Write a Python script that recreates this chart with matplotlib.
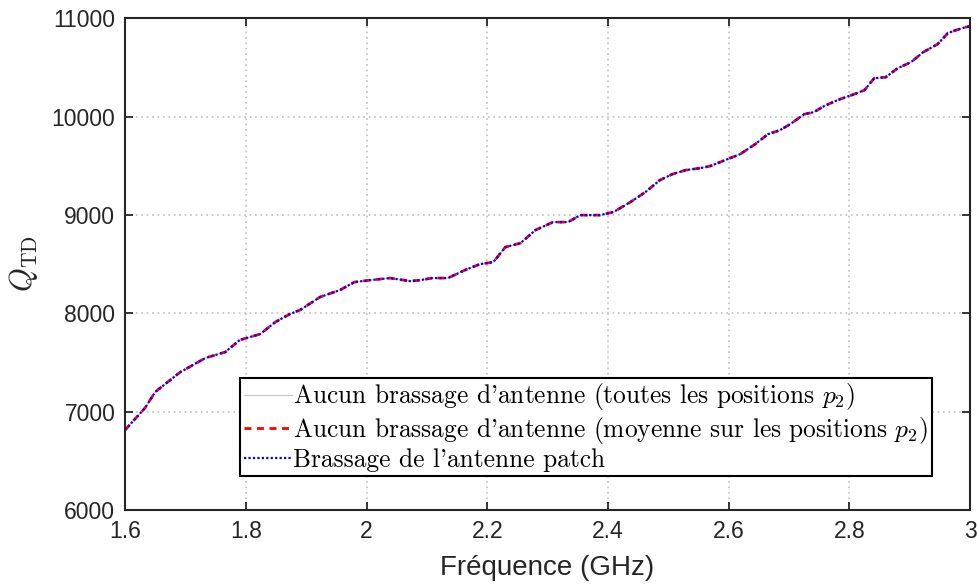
import matplotlib
matplotlib.use("Agg")
import matplotlib.pyplot as plt

# frequence (GHz) et facteur de qualite
freq = [1.600, 1.633, 1.650, 1.691, 1.733, 1.766, 1.790, 1.824, 1.849, 1.873,
        1.890, 1.923, 1.956, 1.980, 2.006, 2.039, 2.072, 2.089, 2.109, 2.135,
        2.163, 2.188, 2.210, 2.230, 2.255, 2.280, 2.309, 2.334, 2.354, 2.387,
        2.409, 2.437, 2.462, 2.486, 2.507, 2.529, 2.553, 2.569, 2.594, 2.619,
        2.644, 2.665, 2.685, 2.702, 2.725, 2.741, 2.758, 2.780, 2.808, 2.825,
        2.841, 2.860, 2.880, 2.902, 2.922, 2.946, 2.963, 2.976, 2.992, 3.000]
q_td = [6813, 7037, 7200, 7400, 7545, 7606, 7728, 7789, 7911, 7992,
        8033, 8165, 8236, 8317, 8337, 8358, 8327, 8337, 8358, 8358,
        8439, 8500, 8520, 8673, 8713, 8846, 8927, 8927, 8998, 8998,
        9029, 9130, 9232, 9354, 9415, 9456, 9476, 9496, 9557, 9618,
        9720, 9821, 9862, 9923, 10024, 10045, 10106, 10167, 10228, 10269,
        10390, 10400, 10492, 10553, 10654, 10736, 10848, 10878, 10908, 10919]
q_moy = q_td
q_patch = q_td

labels = [r"Aucun brassage d'antenne (toutes les positions $p_2$)",
          r"Aucun brassage d'antenne (moyenne sur les positions $p_2$)",
          r"Brassage de l'antenne patch"]

plt.rcParams['font.family'] = ['Liberation Sans', 'DejaVu Sans']
plt.rcParams['mathtext.fontset'] = 'cm'

fig = plt.figure(figsize=(9.77, 5.88), dpi=100)
ax = fig.add_axes([0.128, 0.1327, 0.865, 0.8363])

ax.plot(freq, q_td, color='#c8c8c8', lw=0.8, label=labels[0])
ax.plot(freq, q_moy, color='red', lw=2, ls=(0, (2.5, 2)), label=labels[1])
ax.plot(freq, q_patch, color='blue', lw=1.6, ls=(0, (1, 1)), label=labels[2])

ax.set_xlim(1.6, 3)
ax.set_ylim(6000, 11000)
ax.set_xticks([1.6, 1.8, 2, 2.2, 2.4, 2.6, 2.8, 3])
ax.set_xticklabels(['1.6', '1.8', '2', '2.2', '2.4', '2.6', '2.8', '3'])
ax.set_yticks(range(6000, 11001, 1000))
ax.grid(True, ls=(0, (1, 2)), color='#c8c8c8', lw=1.3)
ax.tick_params(direction='in', top=True, right=True, labelsize=16.5,
               length=6, width=1.3, colors='#262626', labelcolor='#262626')
ax.tick_params(axis='x', pad=7)
ax.tick_params(axis='y', pad=7)
for s in ax.spines.values():
    s.set_linewidth(1.5)
    s.set_color('#262626')

ax.set_xlabel('Fréquence (GHz)', fontsize=20, color='#262626', labelpad=9)
ax.set_ylabel(r'$Q_{\mathrm{TD}}$', fontsize=22, color='#262626', labelpad=8)

leg = ax.legend(loc='lower left', bbox_to_anchor=(0.136, 0.069),
                borderaxespad=0, fancybox=False, framealpha=1,
                edgecolor='black', prop={'family': 'cmr10', 'size': 18.3},
                handlelength=1.9, handletextpad=0.05, borderpad=0.15,
                labelspacing=0.1)
leg.get_frame().set_linewidth(1.5)

fig.savefig('out.png', dpi=100)
